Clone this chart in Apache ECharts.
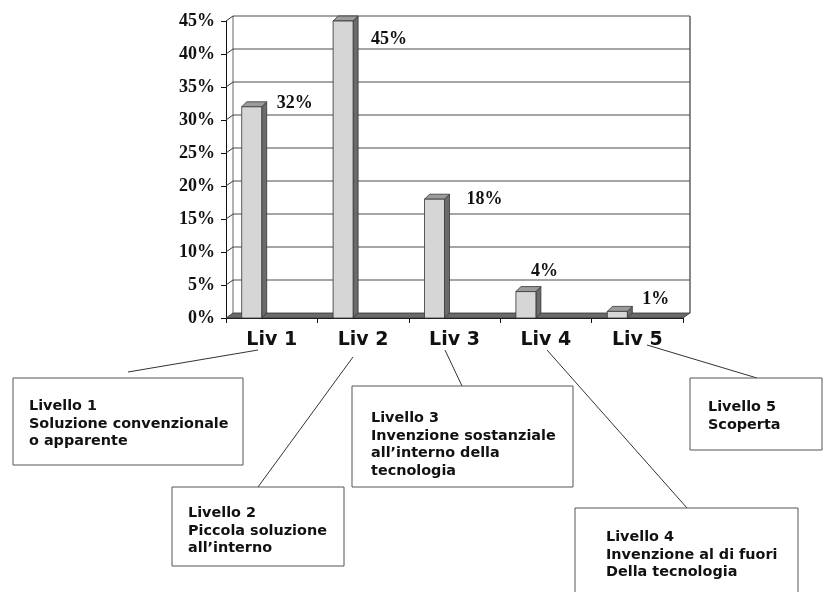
<!DOCTYPE html>
<html>
<head>
<meta charset="utf-8">
<title>Livelli di inventività</title>
<script src="https://cdn.jsdelivr.net/npm/echarts@6/dist/echarts.min.js"></script>
<style>
  html, body { margin: 0; padding: 0; background: #ffffff; }
  #chart { width: 824px; height: 592px; }
</style>
</head>
<body>
<div id="chart"></div>
<script>
// Categories and share of solutions per inventive level (percent)
const categories = ['Liv 1', 'Liv 2', 'Liv 3', 'Liv 4', 'Liv 5'];
const percentages = [32, 45, 18, 4, 1];
// Value-axis ticks (percent)
const yTicks = [0, 5, 10, 15, 20, 25, 30, 35, 40, 45];

// Value label shift from each bar's front top-left corner [dx, dy] (px)
const labelShift = [[35, -3], [38, 18], [42, 0], [15, -20], [35, -12]];

// Annotation boxes describing each level
const levelBoxes = [
  { title: 'Livello 1', lines: ['Soluzione convenzionale', 'o apparente'] },
  { title: 'Livello 2', lines: ['Piccola soluzione', 'all\u2019interno'] },
  { title: 'Livello 3', lines: ['Invenzione sostanziale', 'all\u2019interno della', 'tecnologia'] },
  { title: 'Livello 4', lines: ['Invenzione al di fuori', 'Della tecnologia'] },
  { title: 'Livello 5', lines: ['Scoperta'] }
];

// Layout of boxes and leader lines (px)
const boxRects = [
  [13, 378, 230, 87],
  [172, 487, 172, 79],
  [352, 386, 221, 101],
  [575, 508, 223, 100],
  [690, 378, 132, 72]
];
const textPos = [[29, 398], [188, 505], [371, 410], [606, 529], [708, 399]];
const leaders = [
  [[258, 350], [128, 372]],
  [[353, 357], [258, 487]],
  [[445, 350], [462, 386]],
  [[547, 350], [687, 508]],
  [[647, 345], [757, 378]]
];

// 3D depth of the walls and of the columns
const WALL_DX = 7, WALL_DY = -5;
const BAR_DX = 5, BAR_DY = -5;
const BAR_W = 20, BAR_OFF = -30;

const chart = echarts.init(document.getElementById('chart'), null, { renderer: 'canvas' });

function frameItem(params, api) {
  const v = api.value(0);
  const p = api.coord([0, v]);
  const band = api.size([1, 0])[0];
  const left = p[0] - band / 2;
  const right = left + band * categories.length;
  const y = p[1];
  const children = [];
  const gridStroke = { stroke: '#4a4a4a', lineWidth: 1 };
  if (v === 0) {
    const top = api.coord([0, yTicks[yTicks.length - 1]])[1];
    // back wall side edges
    children.push({ type: 'line', shape: { x1: left + WALL_DX, y1: y + WALL_DY, x2: left + WALL_DX, y2: top + WALL_DY }, style: { stroke: '#666', lineWidth: 1 } });
    children.push({ type: 'line', shape: { x1: right + WALL_DX, y1: y + WALL_DY, x2: right + WALL_DX, y2: top + WALL_DY }, style: { stroke: '#888', lineWidth: 2 } });
    // floor
    children.push({
      type: 'polygon',
      shape: { points: [[left, y], [right, y], [right + WALL_DX, y + WALL_DY], [left + WALL_DX, y + WALL_DY]] },
      style: { fill: '#6a6a6a', stroke: '#333', lineWidth: 0.8 }
    });
  } else {
    children.push({ type: 'line', shape: { x1: left + WALL_DX, y1: y + WALL_DY, x2: right + WALL_DX, y2: y + WALL_DY }, style: gridStroke });
    children.push({ type: 'line', shape: { x1: left, y1: y, x2: left + WALL_DX, y2: y + WALL_DY }, style: { stroke: '#333', lineWidth: 1 } });
  }
  return { type: 'group', children: children };
}

function barItem(params, api) {
  const i = api.value(0);
  const v = api.value(1);
  const top = api.coord([i, v]);
  const base = api.coord([i, 0]);
  const x0 = top[0] + BAR_OFF;
  const x1 = x0 + BAR_W;
  const yt = top[1];
  const yb = base[1];
  const shift = labelShift[params.dataIndex];
  return {
    type: 'group',
    children: [
      {
        type: 'polygon',
        shape: { points: [[x1, yt], [x1 + BAR_DX, yt + BAR_DY], [x1 + BAR_DX, yb + BAR_DY], [x1, yb]] },
        style: { fill: '#6b6b6b', stroke: '#333', lineWidth: 0.8 }
      },
      {
        type: 'polygon',
        shape: { points: [[x0, yt], [x1, yt], [x1 + BAR_DX, yt + BAR_DY], [x0 + BAR_DX, yt + BAR_DY]] },
        style: { fill: '#9c9c9c', stroke: '#333', lineWidth: 0.8 }
      },
      {
        type: 'rect',
        shape: { x: x0, y: yt, width: BAR_W, height: yb - yt },
        style: { fill: '#d6d6d6', stroke: '#333', lineWidth: 0.8 }
      },
      {
        type: 'text',
        x: x0 + shift[0],
        y: yt + shift[1],
        style: {
          text: v + '%',
          font: 'bold 18px "Liberation Serif", "Times New Roman", serif',
          fill: '#111',
          verticalAlign: 'middle',
          align: 'left'
        }
      }
    ]
  };
}

const graphics = [];
leaders.forEach(function (seg) {
  graphics.push({
    type: 'line',
    shape: { x1: seg[0][0], y1: seg[0][1], x2: seg[1][0], y2: seg[1][1] },
    style: { stroke: '#333', lineWidth: 1 },
    z: 10
  });
});
levelBoxes.forEach(function (b, k) {
  const r = boxRects[k];
  graphics.push({
    type: 'rect',
    shape: { x: r[0], y: r[1], width: r[2], height: r[3] },
    style: { fill: '#fff', stroke: '#555', lineWidth: 1 },
    z: 11
  });
  graphics.push({
    type: 'text',
    x: textPos[k][0],
    y: textPos[k][1],
    style: {
      text: [b.title].concat(b.lines).join('\n'),
      font: 'bold 14.4px "DejaVu Sans", Verdana, sans-serif',
      lineHeight: 17.5,
      fill: '#111'
    },
    z: 12
  });
});

chart.setOption({
  animation: false,
  backgroundColor: '#ffffff',
  grid: { left: 226, top: 21, right: 141, bottom: 274, containLabel: false },
  xAxis: {
    type: 'category',
    data: categories,
    boundaryGap: true,
    axisLine: { show: true, lineStyle: { color: '#111', width: 1 } },
    axisTick: { show: true, length: 5, lineStyle: { color: '#111' } },
    axisLabel: {
      margin: 13,
      color: '#111',
      fontFamily: '"DejaVu Sans", Verdana, sans-serif',
      fontWeight: 'bold',
      fontSize: 19
    },
    splitLine: { show: false }
  },
  yAxis: {
    type: 'value',
    min: 0,
    max: 45,
    interval: 5,
    axisLine: { show: true, lineStyle: { color: '#111', width: 1 } },
    axisTick: { show: true, length: 5, lineStyle: { color: '#111' } },
    axisLabel: {
      margin: 11,
      color: '#111',
      formatter: '{value}%',
      fontFamily: '"Liberation Serif", "Times New Roman", serif',
      fontWeight: 'bold',
      fontSize: 18
    },
    splitLine: { show: false }
  },
  series: [
    {
      type: 'custom',
      name: 'frame',
      z: 1,
      silent: true,
      renderItem: frameItem,
      data: yTicks.map(function (t) { return [t]; }),
      encode: { y: 0 }
    },
    {
      type: 'custom',
      name: 'percentuale',
      z: 3,
      renderItem: barItem,
      data: percentages.map(function (v, i) { return [i, v]; }),
      encode: { x: 0, y: 1 }
    }
  ],
  graphic: graphics
});
</script>
</body>
</html>
